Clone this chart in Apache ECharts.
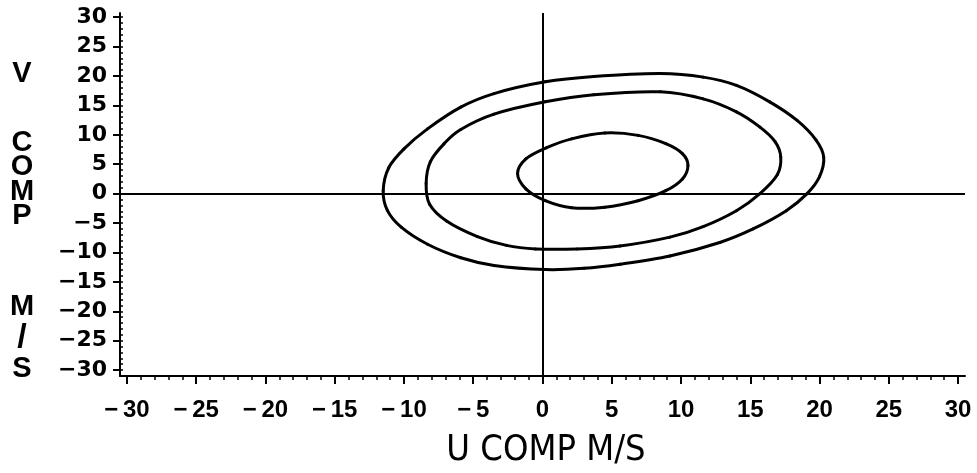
<!DOCTYPE html>
<html><head><meta charset="utf-8">
<script src="https://cdn.jsdelivr.net/npm/echarts@6/dist/echarts.min.js"></script>
<style>html,body{margin:0;padding:0;background:#fff}#c{width:977px;height:473px}</style>
</head><body><div id="c"></div>
<script>
// tick labels (major) for both axes
const xTicks = [-30, -25, -20, -15, -10, -5, 0, 5, 10, 15, 20, 25, 30];
const yTicks = [-30, -25, -20, -15, -10, -5, 0, 5, 10, 15, 20, 25, 30];

// contour rings: [U, V] in m/s (closed loops)
const outerRing = [
  [0.2, 19.0], [3.7, 19.9], [8.5, 20.4], [11.6, 19.8], [14.0, 18.4], [16.4, 15.6],
  [18.4, 12.4], [19.75, 9.1], [20.3, 6.2], [20.0, 2.9], [19.1, 0.0], [17.6, -2.9],
  [15.2, -6.0], [12.8, -8.3], [9.2, -10.6], [5.6, -12.0], [3.0, -12.7], [0.2, -12.9],
  [-3.5, -12.2], [-5.9, -10.9], [-8.3, -8.6], [-10.2, -5.7], [-11.2, -2.85], [-11.5, 0.5],
  [-11.1, 4.4], [-10.0, 7.6], [-8.3, 11.0], [-5.9, 14.7], [-3.5, 17.0]
];
const middleRing = [
  [0.2, 15.6], [3.7, 16.8], [8.5, 17.3], [11.6, 16.1], [14.0, 13.9], [15.7, 11.3],
  [16.8, 8.8], [17.2, 6.2], [16.95, 3.2], [15.7, 0.0], [14.0, -2.9], [11.6, -5.6],
  [9.2, -7.4], [5.6, -8.9], [2.5, -9.4], [-0.5, -9.4], [-2.6, -8.8], [-4.7, -7.3],
  [-6.9, -4.7], [-8.15, -1.8], [-8.4, 1.7], [-8.1, 5.4], [-7.1, 8.5], [-5.9, 10.9],
  [-3.5, 13.5]
];
const innerRing = [
  [0.3, 7.8], [2.1, 9.3], [4.5, 10.3], [6.9, 9.9], [8.9, 8.5], [10.1, 6.8],
  [10.5, 4.8], [10.1, 2.5], [8.9, 0.5], [6.9, -1.2], [4.5, -2.3], [2.1, -2.4],
  [0.2, -1.2], [-1.2, 0.8], [-1.8, 3.4], [-1.2, 5.9]
];

const xName = 'U COMP M/S';
const yNameLetters = ['V', 'C', 'O', 'M', 'P', 'M', '/', 'S'];

const minorTicks = [];
for (let v = -30; v <= 30; v++) minorTicks.push(v);

const FONT = '"Liberation Sans", Arial, sans-serif';
const FONT_Y = '"DejaVu Sans", Verdana, sans-serif';
function fmtX(v) { return v < 0 ? '\u2212\u2009' + Math.abs(v) : String(v); }
function fmtY(v) { return v < 0 ? '\u2212' + Math.abs(v) : String(v); }

const black = '#000';
const yLetterPos = [74, 143, 167, 192, 216, 307, 338, 369];

// closed smooth curve through the ring points (Catmull-Rom), positioned by the axes
function ringSeries(ring) {
  return {
    type: 'custom',
    data: ring,
    encode: { x: 0, y: 1 },
    renderItem: function (params, api) {
      if (params.dataIndex !== 0) return null;
      const pts = ring.map(p => api.coord(p));
      const n = pts.length;
      const children = [];
      for (let i = 0; i < n; i++) {
        const p0 = pts[(i - 1 + n) % n], p1 = pts[i], p2 = pts[(i + 1) % n], p3 = pts[(i + 2) % n];
        children.push({
          type: 'bezierCurve',
          shape: {
            x1: p1[0], y1: p1[1], x2: p2[0], y2: p2[1],
            cpx1: p1[0] + (p2[0] - p0[0]) / 6, cpy1: p1[1] + (p2[1] - p0[1]) / 6,
            cpx2: p2[0] - (p3[0] - p1[0]) / 6, cpy2: p2[1] - (p3[1] - p1[1]) / 6
          },
          style: { stroke: black, lineWidth: 3, fill: null, lineCap: 'round' }
        });
      }
      return { type: 'group', children: children };
    }
  };
}

const chart = echarts.init(document.getElementById('c'));
const option = {
  animation: false,
  backgroundColor: '#fff',
  grid: { left: 120, right: 12, top: 13, bottom: 97 },
  xAxis: [
    {
      type: 'value', min: -30.5, max: 30.5,
      axisLine: { show: true, onZero: false, lineStyle: { color: black, width: 2 } },
      axisTick: { show: true, customValues: xTicks, length: 8, lineStyle: { color: black, width: 2 } },
      axisLabel: { customValues: xTicks, formatter: fmtX, margin: 22, color: black, fontSize: 24, fontWeight: 'bold', fontFamily: FONT },
      splitLine: { show: false }
    },
    {
      type: 'value', min: -30.5, max: 30.5, position: 'bottom',
      axisLine: { show: false, onZero: false },
      axisTick: { show: true, customValues: minorTicks, length: 4, lineStyle: { color: black, width: 1.5 } },
      axisLabel: { show: false },
      splitLine: { show: false }
    }
  ],
  yAxis: [
    {
      type: 'value', min: -31, max: 30.7,
      axisLine: { show: true, onZero: false, lineStyle: { color: black, width: 2 } },
      axisTick: { show: true, customValues: yTicks, length: 7, lineStyle: { color: black, width: 2 } },
      axisLabel: { customValues: yTicks, formatter: fmtY, margin: 13, color: black, fontSize: 22, fontWeight: 'bold', fontFamily: FONT_Y },
      splitLine: { show: false }
    },
    {
      type: 'value', min: -31, max: 30.7, position: 'left',
      axisLine: { show: false, onZero: false },
      axisTick: { show: true, inside: true, customValues: minorTicks, length: 3, lineStyle: { color: black, width: 1.5 } },
      axisLabel: { show: false },
      splitLine: { show: false }
    }
  ],
  series: [
    {
      type: 'line', data: [], symbol: 'none',
      markLine: {
        silent: true, symbol: ['none', 'none'], label: { show: false },
        lineStyle: { color: black, width: 2, type: 'solid' },
        data: [{ xAxis: 0 }, { yAxis: 0 }]
      }
    },
    ringSeries(outerRing),
    ringSeries(middleRing),
    ringSeries(innerRing)
  ],
  graphic: [
    {
      type: 'text',
      style: { text: xName, x: 546, y: 451, align: 'center', verticalAlign: 'middle', fill: black, fontSize: 36, fontFamily: '"DejaVu Sans Condensed", "Liberation Sans Narrow", ' + FONT }
    }
  ].concat(yNameLetters.map((ch, i) => ({
    type: 'text',
    style: { text: ch, x: 22, y: yLetterPos[i], align: 'center', verticalAlign: 'middle', fill: black, fontSize: ch === '/' ? 34 : 29, fontWeight: 'bold', fontFamily: FONT }
  })))
};
chart.setOption(option);
</script>
</body></html>
